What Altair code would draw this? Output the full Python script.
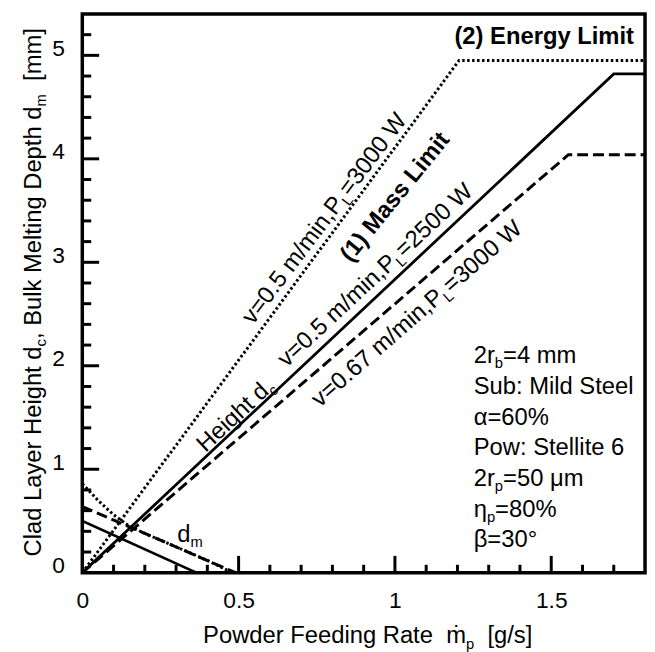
import math
import altair as alt
import pandas as pd

FONT = "Liberation Sans"

# ---------------- data ----------------
# clad layer height d_c (rising curves)
dc_dotted_x = [0.0, 1.205, 1.8]
dc_dotted_y = [0.0, 4.95, 4.95]
dc_solid_x = [0.0, 1.70, 1.8]
dc_solid_y = [0.0, 4.82, 4.82]
dc_dashed_x = [0.0, 1.555, 1.8]
dc_dashed_y = [0.0, 4.04, 4.04]
# bulk melting depth d_m (falling curves)
dm_dotted_x = [0.0, 0.05, 0.10, 0.15, 0.20, 0.30, 0.40, 0.48]
dm_dotted_y = [0.86, 0.70, 0.56, 0.45, 0.38, 0.25, 0.12, 0.0]
dm_dashed_x = [0.0, 0.20, 0.49]
dm_dashed_y = [0.64, 0.38, 0.0]
dm_solid_x = [0.0, 0.365]
dm_solid_y = [0.50, 0.0]

x_labels = [0, 0.5, 1, 1.5]
y_labels = [0, 1, 2, 3, 4, 5]
x_major = [0.5, 1.0, 1.5]
x_minor = [0.1, 0.2, 0.3, 0.4, 0.6, 0.7, 0.8, 0.9, 1.1, 1.2, 1.3, 1.4, 1.6, 1.7]
y_major = [1, 2, 3, 4, 5]
y_minor = [0.2, 0.4, 0.6, 0.8, 1.2, 1.4, 1.6, 1.8, 2.2, 2.4, 2.6, 2.8,
           3.2, 3.4, 3.6, 3.8, 4.2, 4.4, 4.6, 4.8, 5.2]

param_lines = [
    [("2r", False), ("b", True), ("=4 mm", False)],
    [("Sub: Mild Steel", False)],
    [("α=60%", False)],
    [("Pow: Stellite 6", False)],
    [("2r", False), ("p", True), ("=50 μm", False)],
    [("η", False), ("p", True), ("=80%", False)],
    [("β=30°", False)],
]

# ---------------- layout ----------------
W, H = 568, 564
XMAX, YMAX = 1.8, 5.4
PXX, PXY = W / XMAX, H / YMAX

REG = {' ': 278, '%': 889, '(': 333, ')': 333, ',': 278, '-': 333, '.': 278,
       '/': 278, ':': 278, '=': 584, '[': 278, ']': 278, '°': 400,
       'A': 667, 'B': 667, 'C': 722, 'D': 722, 'E': 667, 'F': 611, 'G': 778, 'H': 722,
       'I': 278, 'L': 556, 'M': 833, 'P': 667, 'R': 722, 'S': 667, 'W': 944,
       'a': 556, 'b': 556, 'c': 500, 'd': 556, 'e': 556, 'g': 556, 'h': 556, 'i': 222,
       'k': 500, 'l': 222, 'm': 833, 'n': 556, 'o': 556, 'p': 556, 'r': 333, 's': 500,
       't': 278, 'u': 556, 'v': 500, 'w': 722, 'y': 500,
       'α': 578, 'β': 575, 'η': 556, 'μ': 576, 'ṁ': 833}
BOLD = dict(REG)
BOLD.update({'L': 611, 'M': 833, 'g': 611, 'i': 278, 'm': 889, 'n': 611, 'r': 389,
             's': 556, 't': 333, 'y': 556})


def text_width(s, fs, bold=False):
    tab = BOLD if bold else REG
    return sum(tab.get(ch, 556) for ch in s) / 1000.0 * fs


def place(pieces, cx, cy, angle, fs, align="center", vmode="mid", bold=False):
    """Split a label into pieces (text, is_subscript) laid out along `angle`.
    Leading spaces of a piece are turned into an explicit advance."""
    items = []
    for txt, sub in pieces:
        size = fs * (0.62 if sub else 1.0)
        core = txt.lstrip(" ")
        lead = text_width(" " * (len(txt) - len(core)), size, bold)
        items.append((core, sub, size, lead, text_width(core, size, bold)))
    total = sum(it[3] + it[4] for it in items)
    s0 = {"center": -total / 2, "left": 0.0, "right": -total}[align]
    t0 = 0.35 * fs if vmode == "mid" else 0.0
    th = math.radians(angle)
    cum = s0
    rows = []
    for core, sub, size, lead, w in items:
        cum += lead
        t = t0 + (0.22 * fs if sub else 0.0)
        ox = cum * math.cos(th) - t * math.sin(th)
        oy = cum * math.sin(th) + t * math.cos(th)
        rows.append({"x": cx + ox / PXX, "y": cy - oy / PXY, "t": core,
                     "ang": angle, "fs": size})
        cum += w
    return rows


reg_rows = []
bold_rows = []
reg_rows += place([("v=0.5 m/min,P", False), ("L", True), ("=3000 W", False)],
                  0.772, 3.428, 307, 24)
bold_rows += place([("(1) Mass Limit", False)], 0.998, 3.638, 309, 24, bold=True)
reg_rows += place([("Height d", False), ("c", True)], 0.488, 1.532, 317, 24)
reg_rows += place([("v=0.5 m/min,P", False), ("L", True), ("=2500 W", False)],
                  0.935, 2.882, 317, 24)
reg_rows += place([("v=0.67 m/min,P", False), ("L", True), ("=3000 W", False)],
                  1.068, 2.509, 319, 24)
bold_rows += place([("(2) Energy Limit", False)], 1.765, 5.113, 0, 24,
                   align="right", vmode="base", bold=True)
reg_rows += place([("d", False), ("m", True)], 0.304, 0.297, 0, 24,
                  align="left", vmode="base")
for i, line in enumerate(param_lines):
    reg_rows += place(line, 1.252, 2.025 - i * 0.2968, 0, 24,
                      align="left", vmode="base")
# axis titles
reg_rows += place([("Powder Feeding Rate", False), ("  ṁ", False), ("p", True),
                   ("  [g/s]", False)],
                  0.913, -0.603, 0, 24)
reg_rows += place([("Clad Layer Height d", False), ("c", True),
                   (", Bulk Melting Depth d", False), ("m", True),
                   ("  [mm]", False)],
                  -0.158, 2.71, 270, 24)

xs = alt.Scale(domain=[0, XMAX], nice=False, zero=False)
ys = alt.Scale(domain=[0, YMAX], nice=False, zero=False)
x_axis = alt.Axis(values=x_labels, format="~g", ticks=False, domain=False, grid=False,
                  labelFont=FONT, labelFontSize=23, labelColor="black",
                  labelPadding=17, labelFlush=False, title=None)
y_axis = alt.Axis(values=y_labels, format="d", ticks=False, domain=False, grid=False,
                  labelFont=FONT, labelFontSize=23, labelColor="black",
                  labelPadding=18, labelOffset=-7, labelFlush=False, title=None)


def X(field="x"):
    return alt.X(f"{field}:Q", scale=xs, axis=x_axis)


def Y(field="y"):
    return alt.Y(f"{field}:Q", scale=ys, axis=y_axis)


def line_layer(xv, yv, dash=None, width=3.0, clip=True):
    df = pd.DataFrame({"x": xv, "y": yv, "o": list(range(len(xv)))})
    kw = dict(color="black", strokeWidth=width, strokeCap="butt", clip=clip)
    if dash:
        kw["strokeDash"] = dash
    return alt.Chart(df).mark_line(**kw).encode(x=X(), y=Y(), order="o:Q")


DOT = [2.5, 2.5]
DASH = [11, 5]
layers = [
    line_layer(dc_dotted_x, dc_dotted_y, DOT),
    line_layer(dc_solid_x, dc_solid_y, None, 2.8),
    line_layer(dc_dashed_x, dc_dashed_y, DASH),
    line_layer(dm_dotted_x, dm_dotted_y, DOT),
    line_layer(dm_dashed_x, dm_dashed_y, DASH),
    line_layer(dm_solid_x, dm_solid_y, None, 2.5),
]


# inward ticks as Vega-Lite tick marks sitting on the frame
def x_tick_layer(values, length):
    return (alt.Chart(pd.DataFrame({"x": values}))
            .mark_tick(orient="vertical", color="black", size=length, thickness=3,
                       opacity=1)
            .encode(x=X("x"), y=alt.datum(0), yOffset=alt.value(-length / 2)))


def y_tick_layer(values, length):
    return (alt.Chart(pd.DataFrame({"y": values}))
            .mark_tick(orient="horizontal", color="black", size=length, thickness=3,
                       opacity=1)
            .encode(y=Y("y"), x=alt.datum(0), xOffset=alt.value(length / 2)))


layers += [x_tick_layer(x_major, 17), x_tick_layer(x_minor, 8),
           y_tick_layer(y_major, 17), y_tick_layer(y_minor, 9)]

text_enc = dict(x=X(), y=Y(), text="t:N",
                angle=alt.Angle("ang:Q", scale=None),
                size=alt.Size("fs:Q", scale=None))
layers.append(alt.Chart(pd.DataFrame(reg_rows))
              .mark_text(align="left", baseline="alphabetic", font=FONT, color="black")
              .encode(**text_enc))
layers.append(alt.Chart(pd.DataFrame(bold_rows))
              .mark_text(align="left", baseline="alphabetic", font=FONT, color="black",
                         fontWeight="bold")
              .encode(**text_enc))

chart = alt.layer(*layers).properties(
    width=W, height=H,
    autosize=alt.AutoSizeParams(type="none"),
    padding={"left": 75, "top": 3, "right": 2, "bottom": 77},
    background="white",
).configure_view(stroke="black", strokeWidth=3.5)

chart.save("out.html", embed_options={"renderer": "svg", "actions": False})
